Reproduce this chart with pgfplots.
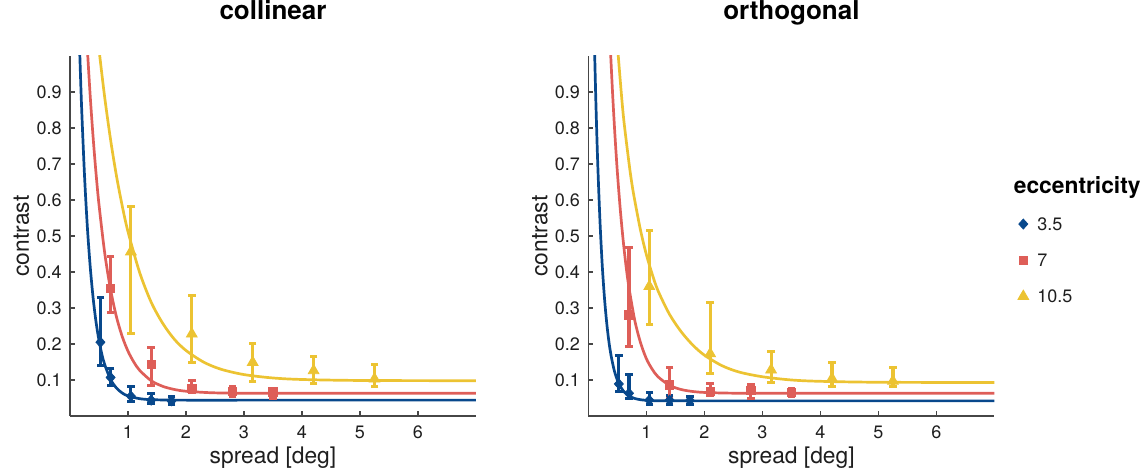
\documentclass[border=0pt]{standalone}
\usepackage{pgfplots}
\pgfplotsset{compat=1.18}
\usepackage{fontspec}
\setmainfont{TeX Gyre Heros}
\definecolor{cblue}{RGB}{8,72,140}
\definecolor{cred}{RGB}{222,94,88}
\definecolor{cyel}{RGB}{236,195,50}
\definecolor{axgray}{RGB}{70,70,70}
\definecolor{txt}{RGB}{30,30,30}

\pgfplotsset{
  myaxis/.style={
    scale only axis, width=203pt, height=180pt,
    xmin=0, xmax=7, ymin=0, ymax=1,
    axis x line*=bottom, axis y line*=left,
    axis line style={axgray, line width=0.65pt},
    tick style={axgray, line width=0.65pt},
    tick align=inside, major tick length=2.5pt,
    xtick={1,2,3,4,5,6}, xticklabels={1,2,3,4,5,6},
    ytick={0.1,0.2,0.3,0.4,0.5,0.6,0.7,0.8,0.9},
    yticklabels={0.1,0.2,0.3,0.4,0.5,0.6,0.7,0.8,0.9},
    ticklabel style={font=\fontsize{9}{10}\selectfont, text=txt},
    xticklabel style={anchor=base, inner sep=0pt, yshift=-11.5pt},
    yticklabel style={anchor=east, inner sep=0pt, xshift=-4pt},
    xlabel={spread [deg]}, ylabel={contrast},
    label style={font=\fontsize{11.4}{12}\selectfont, text=txt},
    xlabel style={at={(axis description cs:0.5,-0.1306)}, anchor=base, inner sep=0pt},
    ylabel style={at={(axis description cs:-0.101,0.5)}, anchor=base, inner sep=0pt},
    title style={at={(axis description cs:0.5,1)}, anchor=base, yshift=12pt, inner sep=0pt, font=\bfseries\fontsize{13}{14}\selectfont},
    clip mode=individual,
  },
  curve/.style={no markers, smooth, line width=1.35pt},
  ebar/.style={line width=1.6pt, mark=-, mark size=1.9pt, mark options={solid, line width=1.5pt}, unbounded coords=jump, forget plot},
}

\begin{document}
\begin{tikzpicture}
\useasboundingbox (-35pt,-29pt) rectangle (538pt,208pt);

% ---------------- collinear ----------------
\begin{axis}[myaxis, at={(0pt,0pt)}, anchor=south west, title={collinear}]
\addplot[curve, color=cblue] coordinates {
(0.16,1.050)(0.17,0.999)(0.2,0.858)(0.25,0.669)(0.3,0.523)(0.35,0.412)(0.4,0.326)(0.45,0.260)(0.5,0.210)(0.55,0.171)(0.6,0.142)(0.7,0.1015)(0.8,0.0779)(0.9,0.0639)(1.0,0.0557)(1.2,0.0481)(1.4,0.0454)(1.7,0.0443)(2.0,0.044)(3,0.044)(5,0.044)(7,0.044)};
\addplot[curve, color=cred] coordinates {
(0.29,1.048)(0.307,0.999)(0.35,0.885)(0.4,0.771)(0.45,0.672)(0.5,0.587)(0.6,0.451)(0.7,0.351)(0.8,0.276)(0.9,0.221)(1.0,0.180)(1.1,0.150)(1.2,0.127)(1.4,0.098)(1.6,0.0823)(1.8,0.0736)(2.0,0.0688)(2.4,0.0648)(2.8,0.0635)(3.5,0.063)(5,0.063)(7,0.063)};
\addplot[curve, color=cyel] coordinates {
(0.48,1.049)(0.513,1.000)(0.6,0.883)(0.7,0.767)(0.8,0.668)(0.9,0.584)(1.0,0.512)(1.2,0.399)(1.4,0.316)(1.6,0.257)(1.8,0.213)(2.0,0.182)(2.3,0.150)(2.6,0.130)(3.0,0.115)(3.5,0.1056)(4.0,0.1014)(5.0,0.0987)(7,0.098)};

% error bars (low, high)
\addplot[ebar, color=cblue] coordinates {
(0.525,0.140)(0.525,0.330)(0.525,nan)
(0.7,0.085)(0.7,0.132)(0.7,nan)
(1.05,0.040)(1.05,0.082)(1.05,nan)
(1.4,0.035)(1.4,0.063)(1.4,nan)
(1.75,0.032)(1.75,0.053)};
\addplot[ebar, color=cred] coordinates {
(0.7,0.288)(0.7,0.443)(0.7,nan)
(1.4,0.085)(1.4,0.191)(1.4,nan)
(2.1,0.065)(2.1,0.098)(2.1,nan)
(2.8,0.055)(2.8,0.082)(2.8,nan)
(3.5,0.049)(3.5,0.077)};
\addplot[ebar, color=cyel] coordinates {
(1.05,0.228)(1.05,0.581)(1.05,nan)
(2.1,0.148)(2.1,0.336)(2.1,nan)
(3.15,0.095)(3.15,0.200)(3.15,nan)
(4.2,0.089)(4.2,0.165)(4.2,nan)
(5.25,0.083)(5.25,0.144)};

\addplot[color=cblue, only marks, mark=diamond*, mark size=2.5pt, mark options={solid, xscale=1.2, fill=cblue}] coordinates {
(0.525,0.205)(0.7,0.107)(1.05,0.055)(1.4,0.044)(1.75,0.042)};
\addplot[color=cred, only marks, mark=square*, mark size=2.1pt, mark options={solid, fill=cred}] coordinates {
(0.7,0.355)(1.4,0.144)(2.1,0.077)(2.8,0.069)(3.5,0.067)};
\addplot[color=cyel, only marks, mark=triangle*, mark size=3.1pt, mark options={solid, fill=cyel}] coordinates {
(1.05,0.456)(2.1,0.228)(3.15,0.149)(4.2,0.126)(5.25,0.103)};
\end{axis}

% ---------------- orthogonal ----------------
\begin{axis}[myaxis, at={(259.2pt,0pt)}, anchor=south west, title={orthogonal},
  legend style={at={(axis description cs:1.057,0.552)}, anchor=north west, draw=none, fill=none,
    font=\fontsize{9}{10}\selectfont, inner sep=0pt, nodes={inner sep=0pt, text depth=0pt, text=txt},
    row sep=11.75pt, column sep=4.3pt},
  legend cell align=left,
  legend image code/.code={\draw[mark repeat=2, mark phase=2, #1] plot coordinates {(0pt,0pt)(3pt,0pt)(6pt,0pt)};},
]
\addplot[curve, color=cblue, forget plot] coordinates {
(0.1,1.064)(0.109,1.000)(0.13,0.866)(0.16,0.706)(0.2,0.540)(0.24,0.415)(0.28,0.322)(0.32,0.252)(0.36,0.199)(0.4,0.160)(0.45,0.124)(0.5,0.0994)(0.55,0.082)(0.6,0.0699)(0.7,0.0556)(0.8,0.0486)(0.9,0.0452)(1.0,0.0436)(1.2,0.0424)(2,0.042)(4,0.042)(7,0.042)};
\addplot[curve, color=cred, forget plot] coordinates {
(0.37,1.055)(0.385,1.001)(0.42,0.887)(0.46,0.774)(0.5,0.676)(0.55,0.573)(0.6,0.487)(0.65,0.415)(0.7,0.356)(0.8,0.265)(0.9,0.203)(1.0,0.159)(1.1,0.130)(1.2,0.109)(1.4,0.085)(1.6,0.0735)(1.8,0.068)(2.0,0.0654)(2.4,0.0636)(3.0,0.063)(5,0.063)(7,0.063)};
\addplot[curve, color=cyel, forget plot] coordinates {
(0.49,1.053)(0.515,1.000)(0.6,0.838)(0.7,0.703)(0.75,0.645)(0.8,0.598)(0.9,0.515)(1.0,0.448)(1.1,0.394)(1.2,0.348)(1.4,0.282)(1.6,0.234)(1.8,0.197)(2.0,0.169)(2.3,0.140)(2.6,0.122)(3.0,0.109)(3.5,0.100)(4.0,0.0963)(5.0,0.0937)(7,0.093)};

\addplot[ebar, color=cblue] coordinates {
(0.525,0.068)(0.525,0.167)(0.525,nan)
(0.7,0.049)(0.7,0.116)(0.7,nan)
(1.05,0.033)(1.05,0.066)(1.05,nan)
(1.4,0.033)(1.4,0.057)(1.4,nan)
(1.75,0.033)(1.75,0.054)};
\addplot[ebar, color=cred] coordinates {
(0.7,0.193)(0.7,0.468)(0.7,nan)
(1.4,0.049)(1.4,0.134)(1.4,nan)
(2.1,0.057)(2.1,0.090)(2.1,nan)
(2.8,0.049)(2.8,0.087)(2.8,nan)
(3.5,0.054)(3.5,0.077)};
\addplot[ebar, color=cyel] coordinates {
(1.05,0.253)(1.05,0.516)(1.05,nan)
(2.1,0.117)(2.1,0.316)(2.1,nan)
(3.15,0.093)(3.15,0.180)(3.15,nan)
(4.2,0.083)(4.2,0.149)(4.2,nan)
(5.25,0.081)(5.25,0.135)};

\addplot[color=cblue, only marks, mark=diamond*, mark size=2.5pt, mark options={solid, xscale=1.2, fill=cblue}] coordinates {
(0.525,0.089)(0.7,0.063)(1.05,0.044)(1.4,0.044)(1.75,0.043)};
\addlegendentry{3.5}
\addplot[color=cred, only marks, mark=square*, mark size=2.1pt, mark options={solid, fill=cred}] coordinates {
(0.7,0.281)(1.4,0.086)(2.1,0.069)(2.8,0.071)(3.5,0.065)};
\addlegendentry{7}
\addplot[color=cyel, only marks, mark=triangle*, mark size=3.1pt, mark options={solid, fill=cyel}] coordinates {
(1.05,0.360)(2.1,0.173)(3.15,0.128)(4.2,0.104)(5.25,0.097)};
\addlegendentry{10.5}
\node[anchor=base west, inner sep=0pt, font=\bfseries\fontsize{11.4}{12}\selectfont, text=black]
  at (axis description cs:1.047,0.619) {eccentricity};
\end{axis}
\end{tikzpicture}
\end{document}
